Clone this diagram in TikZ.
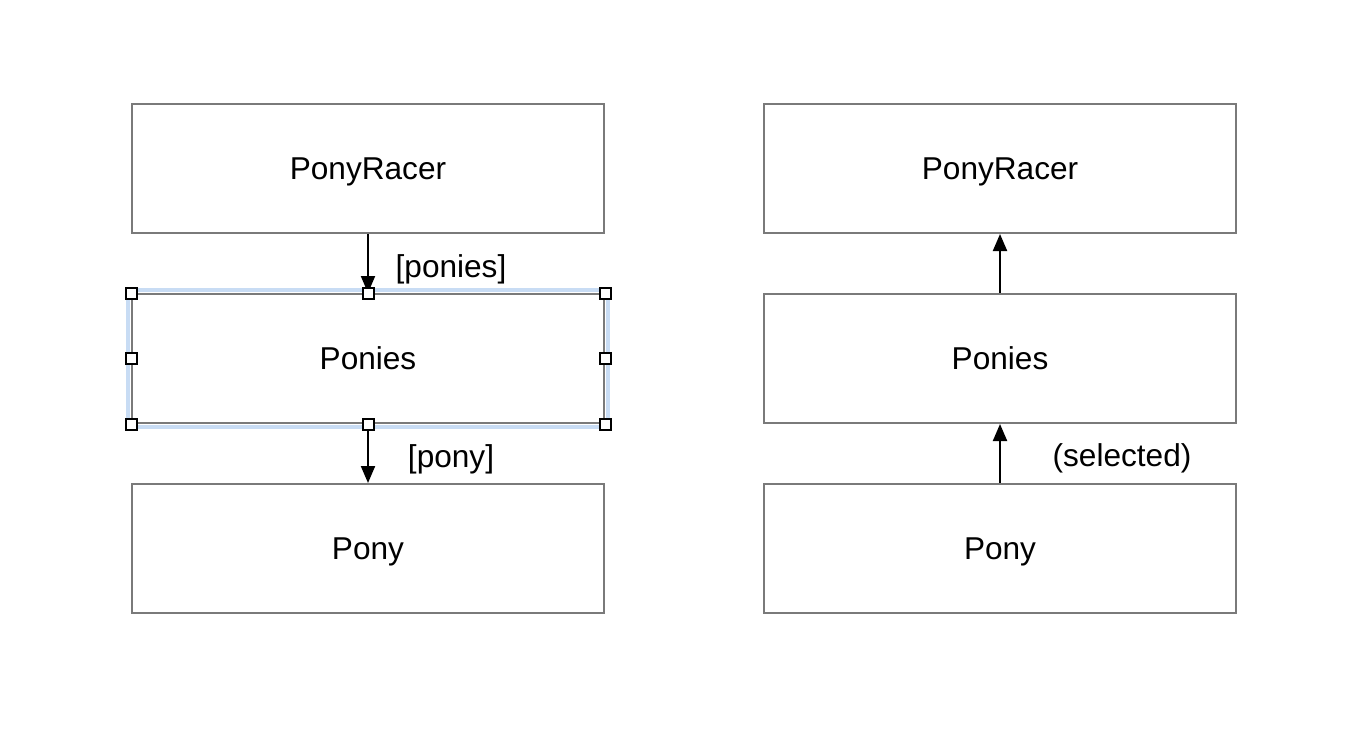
\documentclass[tikz,border=0pt]{standalone}
\usepackage{fontspec}
\setmainfont{Liberation Sans}
\usetikzlibrary{arrows.meta}
\definecolor{boxgray}{HTML}{7A7A7A}
\definecolor{selblue}{HTML}{C8DCF4}
\begin{document}
\begin{tikzpicture}[x=0.5pt,y=-0.5pt,
  txt/.style={font=\fontsize{15.8}{19}\selectfont,text height=11.3pt,text depth=0pt},
  box/.style={txt,draw=boxgray,line width=1pt,minimum width=236pt,minimum height=64.5pt,inner sep=0pt,fill=white},
  lbl/.style={txt,inner sep=0pt},
  conn/.style={line width=1pt,-{Triangle[length=8.5pt,width=7pt]}},
  handle/.style={draw=black,fill=white,line width=1pt,minimum size=5.5pt,inner sep=0pt}]
\useasboundingbox (0,0) rectangle (1368,738);
% selection highlight
\draw[selblue,line width=2pt] (128,290) rectangle (608,427);
% left column
\node[box] (racerL) at (368,168.5) {PonyRacer};
\node[box] (poniesL) at (368,358.5) {Ponies};
\node[box] (ponyL) at (368,548.5) {Pony};
% right column
\node[box] (racerR) at (1000,168.5) {PonyRacer};
\node[box] (poniesR) at (1000,358.5) {Ponies};
\node[box] (ponyR) at (1000,548.5) {Pony};
% connectors
\draw[conn] (racerL.south) -- (poniesL.north);
\draw[conn] (poniesL.south) -- (ponyL.north);
\draw[conn] (poniesR.north) -- (racerR.south);
\draw[conn] (ponyR.north) -- (poniesR.south);
% labels
\node[lbl] (l1) at (451,266) {[ponies]};
\node[lbl] (l2) at (451,456) {[pony]};
\node[lbl] (l3) at (1122,455) {(selected)};
% handles
\foreach \a [count=\i] in {north west,north,north east,west,east,south west,south,south east}
  \node[handle] (h\i) at (poniesL.\a) {};
\end{tikzpicture}
\end{document}
